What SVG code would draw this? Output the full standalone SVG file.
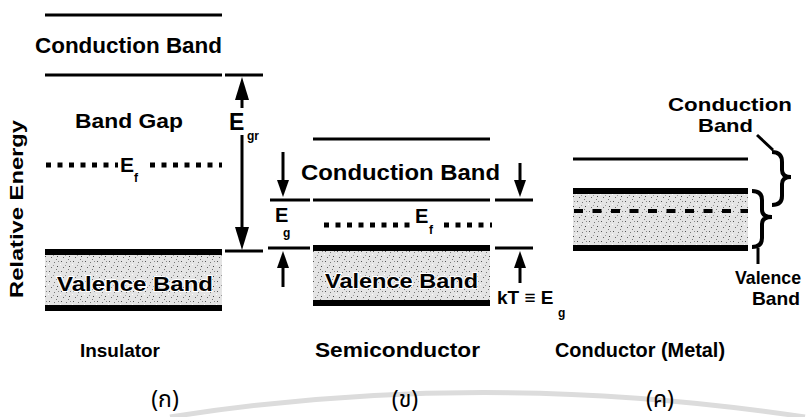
<svg xmlns="http://www.w3.org/2000/svg" width="807" height="417" viewBox="0 0 807 417">
<style>
.t{font-family:"Liberation Sans",Arial,sans-serif;font-weight:bold;fill:#000}
.th{font-family:"Noto Sans Thai","Noto Sans","DejaVu Sans",sans-serif;font-size:23px;fill:#000}
.thin{stroke:#000;stroke-width:3}
.thick{stroke:#000;stroke-width:6}
.tick{stroke:#000;stroke-width:3}
.dots{stroke:#000;stroke-width:5;stroke-dasharray:5 6.5}
.halo{stroke:#fff;stroke-width:2;paint-order:stroke}
</style>
<defs>
<pattern id="stip" width="12" height="10" patternUnits="userSpaceOnUse">
<rect width="12" height="10" fill="#e4e4e4"/>
<rect x="1" y="1" width="1" height="1" fill="#555"/>
<rect x="6" y="2" width="1" height="1" fill="#777"/>
<rect x="9" y="6" width="1" height="1" fill="#444"/>
<rect x="3" y="7" width="1" height="1" fill="#666"/>
<rect x="10" y="1" width="1" height="1" fill="#888"/>
<rect x="5" y="5" width="1" height="1" fill="#999"/>
<rect x="0" y="4" width="1" height="1" fill="#fff"/>
<rect x="8" y="9" width="1" height="1" fill="#777"/>
</pattern>
</defs>
<rect width="807" height="417" fill="#fff"/>
<path d="M170 417 Q480 368 805 417" fill="none" stroke="#dcdcdc" stroke-width="5"/>

<text class="t" font-size="18" transform="translate(23 298) rotate(-90)" textLength="178" lengthAdjust="spacingAndGlyphs">Relative Energy</text>

<g id="insulator">
<line class="thin" x1="45" y1="15" x2="222" y2="15"/>
<text class="t" font-size="22" x="35" y="53" textLength="187" lengthAdjust="spacingAndGlyphs">Conduction Band</text>
<line class="thin" x1="45" y1="75" x2="222" y2="75"/>
<text class="t" font-size="21" x="75" y="128" textLength="108" lengthAdjust="spacingAndGlyphs">Band Gap</text>
<line class="dots" x1="46" y1="165" x2="118" y2="165"/>
<line class="dots" x1="150" y1="165" x2="222" y2="165"/>
<text class="t" font-size="21" x="120" y="172">E</text>
<text class="t" font-size="12" x="134" y="182">f</text>
<rect x="45" y="254" width="177" height="52" fill="url(#stip)"/>
<line class="thick" x1="45" y1="252" x2="222" y2="252"/>
<text class="t halo" font-size="21" x="57" y="291" textLength="156" lengthAdjust="spacingAndGlyphs">Valence Band</text>
<line class="thick" x1="45" y1="308" x2="222" y2="308"/>
<text class="t" font-size="19" x="80" y="357" textLength="80" lengthAdjust="spacingAndGlyphs">Insulator</text>
<text class="th" x="165" y="407" text-anchor="middle">(ก)</text>
</g>

<g id="egr">
<line class="tick" x1="225" y1="75" x2="263" y2="75"/>
<line class="tick" x1="225" y1="251" x2="263" y2="251"/>
<polygon points="242,77 235,100 249,100"/>
<line x1="242" y1="99" x2="242" y2="108" stroke="#000" stroke-width="3"/>
<text class="t" font-size="23" x="229" y="130">E</text>
<text class="t" font-size="12" x="247" y="140">gr</text>
<line x1="242" y1="135" x2="242" y2="230" stroke="#000" stroke-width="3"/>
<polygon points="242,250 235,227 249,227"/>
</g>

<g id="semiconductor">
<line class="thin" x1="313" y1="139" x2="490" y2="139"/>
<text class="t" font-size="22" x="301" y="180" textLength="199" lengthAdjust="spacingAndGlyphs">Conduction Band</text>
<line class="thin" x1="313" y1="200" x2="490" y2="200"/>
<line class="dots" x1="324" y1="225" x2="410" y2="225"/>
<line class="dots" x1="444" y1="225" x2="492" y2="225"/>
<text class="t" font-size="20" x="415" y="223">E</text>
<text class="t" font-size="12" x="429" y="234">f</text>
<rect x="313" y="250" width="177" height="51" fill="url(#stip)"/>
<line class="thick" x1="313" y1="248" x2="490" y2="248"/>
<text class="t halo" font-size="21" x="325" y="288" textLength="153" lengthAdjust="spacingAndGlyphs">Valence Band</text>
<line class="thick" x1="313" y1="303" x2="490" y2="303"/>
<text class="t" font-size="20" x="315" y="357" textLength="165" lengthAdjust="spacingAndGlyphs">Semiconductor</text>
<text class="th" x="405" y="407" text-anchor="middle">(ข)</text>
</g>

<g id="eg">
<line class="tick" x1="270" y1="200" x2="310" y2="200"/>
<line class="tick" x1="268" y1="248" x2="310" y2="248"/>
<line class="tick" x1="495" y1="200" x2="533" y2="200"/>
<line class="tick" x1="495" y1="248" x2="533" y2="248"/>
<line x1="283" y1="152" x2="283" y2="182" stroke="#000" stroke-width="3"/>
<polygon points="283,197 277,180 289,180"/>
<line x1="520" y1="163" x2="520" y2="182" stroke="#000" stroke-width="3"/>
<polygon points="520,197 514,180 526,180"/>
<polygon points="283,251 277,268 289,268"/>
<line x1="283" y1="266" x2="283" y2="287" stroke="#000" stroke-width="3"/>
<polygon points="520,251 514,268 526,268"/>
<line x1="520" y1="266" x2="520" y2="283" stroke="#000" stroke-width="3"/>
<text class="t" font-size="20" x="275" y="222">E</text>
<text class="t" font-size="12" x="283" y="237">g</text>
<text class="t" font-size="19" x="497" y="304">kT ≡ E</text>
<text class="t" font-size="12" x="558" y="317">g</text>
</g>

<g id="conductor">
<line class="thin" x1="573" y1="159" x2="748" y2="159"/>
<rect x="573" y="193" width="175" height="53" fill="url(#stip)"/>
<line class="thick" x1="573" y1="191" x2="748" y2="191"/>
<line x1="574" y1="211" x2="748" y2="211" stroke="#000" stroke-width="4" stroke-dasharray="9 9.5"/>
<line class="thick" x1="573" y1="248" x2="748" y2="248"/>
<text class="t" font-size="19" x="668" y="111" textLength="124" lengthAdjust="spacingAndGlyphs">Conduction</text>
<text class="t" font-size="19" x="698" y="132" textLength="55" lengthAdjust="spacingAndGlyphs">Band</text>
<line x1="757" y1="135" x2="773" y2="150" stroke="#000" stroke-width="3"/>
<path d="M772 152 Q782 152 782 162 L782 170 Q782 177 791 177 Q782 177 782 184 L782 196 Q782 205 772 205" fill="none" stroke="#000" stroke-width="4"/>
<path d="M752 191 Q762 191 762 200 L762 210 Q762 217 772 217 Q762 217 762 224 L762 238 Q762 247 752 247" fill="none" stroke="#000" stroke-width="4"/>
<line x1="758" y1="248" x2="758" y2="264" stroke="#000" stroke-width="3"/>
<text class="t" font-size="19" x="735" y="284" textLength="66" lengthAdjust="spacingAndGlyphs">Valence</text>
<text class="t" font-size="19" x="752" y="305" textLength="48" lengthAdjust="spacingAndGlyphs">Band</text>
<text class="t" font-size="20" x="555" y="357" textLength="170" lengthAdjust="spacingAndGlyphs">Conductor (Metal)</text>
<text class="th" x="660" y="407" text-anchor="middle">(ค)</text>
</g>
</svg>
